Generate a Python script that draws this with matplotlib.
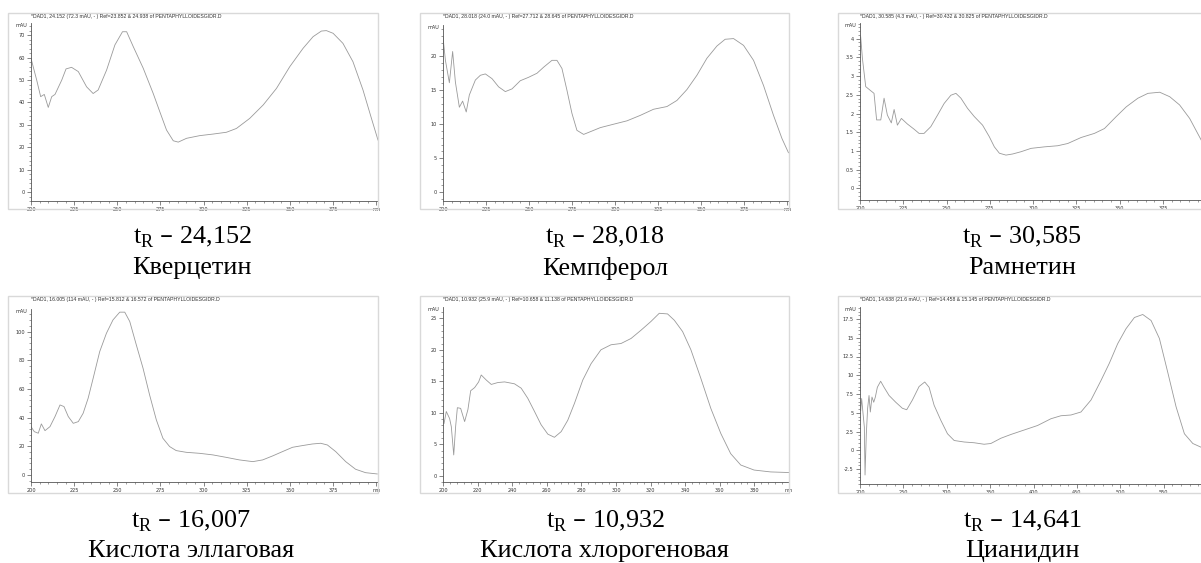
import numpy as np
import matplotlib
matplotlib.use('Agg')
import matplotlib.pyplot as plt
from matplotlib.ticker import MultipleLocator, FuncFormatter
from matplotlib.patches import Rectangle

W, H = 1201, 563

# --- data (nm, mAU) ---
quercetin_nm = [200, 203.3, 205.6, 207.7, 210, 212, 213.9, 217.8, 220.3, 223.5, 227.4, 232.2, 236, 238.9,
                243.8, 248.6, 253, 255.4, 259.2, 265, 270.8, 274.6, 278.5, 282.4, 285.3, 290.1, 297.8,
                305.5, 313.2, 319, 326.7, 334.5, 342.2, 349.9, 357.6, 363.4, 368.2, 371.1, 375, 380.7,
                386.5, 392.3, 397.2, 401]
quercetin_mau = [59.7, 50, 42.6, 43.6, 37.8, 42.6, 43.6, 50, 55, 55.7, 53.8, 47, 44, 45.6,
                 54.5, 65.7, 71.6, 71.6, 65, 55.3, 44, 35.9, 27.7, 22.9, 22.3, 24, 25.2,
                 25.9, 26.7, 28.4, 32.9, 38.9, 46.3, 56, 64.2, 69.4, 71.9, 72.1, 70.9, 66.4,
                 58.2, 45.6, 32.9, 23.2]

kaempferol_nm = [200, 201.4, 203.7, 205.6, 207.2, 209.5, 211.4, 213.5, 215.3, 218.8, 221.7, 224.6, 228.5,
                 232.3, 236.2, 240.1, 244.9, 249.7, 254.6, 258.5, 263.3, 266.2, 269.1, 272, 274.9, 277.8,
                 281.7, 285.6, 291.4, 299.1, 306.9, 314.6, 322.3, 330.1, 335.9, 341.7, 347.5, 353.3,
                 359.1, 363.9, 368.8, 374.6, 380.4, 386.2, 392, 396.9, 400.7]
kaempferol_mau = [22.8, 19.4, 16.1, 20.7, 16.2, 12.5, 13.4, 11.8, 14.3, 16.5, 17.2, 17.4, 16.7,
                  15.5, 14.8, 15.2, 16.4, 16.9, 17.5, 18.4, 19.4, 19.4, 18.2, 15, 11.6, 9.1,
                  8.5, 8.9, 9.5, 10, 10.5, 11.3, 12.2, 12.6, 13.5, 15.1, 17.2, 19.7,
                  21.5, 22.5, 22.6, 21.6, 19.4, 15.7, 11.3, 7.9, 5.8]

rhamnetin_nm = [200.4, 201.4, 203.3, 206.2, 208.1, 209.6, 212, 213.9, 215.8, 218.1, 219.7, 221.6, 223.9,
                227.4, 231.3, 234.1, 237, 240.9, 244.8, 248.6, 252.5, 255.4, 258.3, 262.1, 266, 270.8,
                274.7, 277.6, 280.5, 284.3, 288.2, 293, 298.8, 306.5, 314.2, 320, 327.7, 335.4, 341.2,
                348, 353.8, 360.5, 366.3, 373.1, 378.9, 384.6, 390.4, 397.1, 401]
rhamnetin_mau = [4.05, 3.47, 2.72, 2.61, 2.54, 1.83, 1.83, 2.41, 1.96, 1.75, 2.11, 1.69, 1.87,
                 1.72, 1.58, 1.47, 1.47, 1.65, 1.96, 2.27, 2.49, 2.54, 2.41, 2.14, 1.92, 1.69,
                 1.38, 1.11, 0.94, 0.89, 0.92, 0.98, 1.07, 1.11, 1.14, 1.2, 1.36, 1.47, 1.6,
                 1.92, 2.18, 2.41, 2.54, 2.57, 2.45, 2.23, 1.87, 1.29, 0.95]

ellagic_nm = [200, 201.9, 204.2, 206, 208.1, 211, 213.9, 216.8, 219.1, 221.6, 224.5, 227.4, 230.2, 233.1,
              236, 239.8, 243.7, 247.5, 251.4, 254.3, 257.2, 261, 264.9, 268.7, 272.6, 276.4, 280.3,
              284.1, 289.9, 297.6, 305.3, 313, 320.7, 328.5, 334.2, 340, 345.7, 351.5, 357.3, 363,
              367.8, 371.7, 376.5, 382.3, 388, 393.8, 400.6]
ellagic_mau = [33.7, 30.2, 29.1, 35.6, 30.9, 33.7, 40.7, 48.8, 47.7, 40.7, 36, 37.2, 43, 53.5,
               67.4, 86, 98.8, 108.1, 113.5, 113.5, 107, 90.7, 74.4, 55.8, 38.4, 25.6, 19.8,
               17, 15.8, 15.1, 14, 12.3, 10.5, 9.3, 10.5, 13.3, 16.3, 19.3, 20.5, 21.6,
               22.1, 20.9, 16.3, 9.3, 4, 1.6, 0.7]

chlorogenic_nm = [200.6, 201.9, 203.8, 204.8, 206.2, 207.3, 208.3, 210.2, 212.5, 214.4, 216, 218.3, 220.6,
                  222.1, 225, 227.9, 231.7, 235.6, 241.3, 245.2, 249, 252.9, 256.7, 260.6, 264.4, 268.3,
                  272.1, 276, 280.8, 285.6, 291.3, 297.1, 302.9, 308.7, 314.4, 320.2, 325, 329.8, 333.7,
                  338.5, 343.3, 349, 354.8, 360.6, 366.3, 372.1, 379.8, 389.4, 400.4]
chlorogenic_mau = [8.3, 10.2, 9.1, 7.8, 3.3, 7.8, 10.8, 10.7, 8.6, 10.5, 13.5, 14, 14.9,
                   16, 15.2, 14.5, 14.8, 14.9, 14.6, 13.9, 12.3, 10.2, 8.1, 6.6, 6.1, 7,
                   8.8, 11.5, 15.2, 17.8, 20, 20.8, 21, 21.8, 23.1, 24.5, 25.8, 25.7, 24.7,
                   22.9, 20, 15.5, 10.7, 6.7, 3.5, 1.7, 0.9, 0.6, 0.5]

cyanidin_nm = [200.8, 201.9, 203.5, 205, 205.8, 207.3, 208.8, 210.4, 211.9, 213.8, 215.8, 217.7, 220,
               223.8, 227.7, 233.5, 241.2, 248.8, 253.8, 260.4, 268.1, 274.6, 279.6, 285.4, 293.1,
               300.8, 308.5, 320, 331.5, 343, 350.8, 362.3, 373.8, 389.2, 404.6, 420, 431.5, 443.1,
               454.6, 466.2, 477.7, 487.3, 496.9, 506.5, 516.2, 525.8, 535.4, 545, 554.6, 564.2,
               573.8, 583.5, 593.1, 601]
cyanidin_mau = [5.3, 6.9, 4.9, 3.1, -3.3, 2.2, 5.6, 7.3, 5.1, 7.1, 6.4, 7.1, 8.4,
                9.2, 8.4, 7.3, 6.4, 5.6, 5.4, 6.7, 8.5, 9.1, 8.4, 6, 4,
                2.2, 1.3, 1.1, 1, 0.8, 0.9, 1.6, 2.1, 2.7, 3.3, 4.2, 4.6, 4.7,
                5.1, 6.7, 9.3, 11.6, 14.2, 16.2, 17.7, 18.1, 17.3, 14.9, 10.4, 5.8,
                2.2, 0.9, 0.4, 0.3]

titles = [
    '*DAD1, 24.152 (72.3 mAU, - ) Ref=23.852 & 24.938 of PENTAPHYLLOIDESGIDR.D',
    '*DAD1, 28.018 (24.0 mAU, - ) Ref=27.712 & 28.645 of PENTAPHYLLOIDESGIDR.D',
    '*DAD1, 30.585 (4.3 mAU, - ) Ref=30.432 & 30.825 of PENTAPHYLLOIDESGIDR.D',
    '*DAD1, 16.005 (114 mAU, - ) Ref=15.812 & 16.572 of PENTAPHYLLOIDESGIDR.D',
    '*DAD1, 10.932 (25.9 mAU, - ) Ref=10.658 & 11.138 of PENTAPHYLLOIDESGIDR.D',
    '*DAD1, 14.638 (21.6 mAU, - ) Ref=14.458 & 15.145 of PENTAPHYLLOIDESGIDR.D',
]
ret_times = ['24,152', '28,018', '30,585', '16,007', '10,932', '14,641']
names = ['Кверцетин', 'Кемпферол', 'Рамнетин', 'Кислота эллаговая', 'Кислота хлорогеновая', 'Цианидин']

spectra = [(quercetin_nm, quercetin_mau), (kaempferol_nm, kaempferol_mau), (rhamnetin_nm, rhamnetin_mau),
           (ellagic_nm, ellagic_mau), (chlorogenic_nm, chlorogenic_mau), (cyanidin_nm, cyanidin_mau)]

# layout in pixels: frame (l, r, t, b), axes (l, r, t, b), limits, tick steps, caption position
panels = [
    dict(frame=(8, 378, 13, 209), ax=(31, 378, 23, 201), xlim=(200, 401), ylim=(-4, 75.5),
         xt=(25, 5), yt=(10, 2), cx=192, cy=(237, 268)),
    dict(frame=(420, 789, 13, 209), ax=(443, 789, 25, 201), xlim=(200, 401), ylim=(-1.3, 24.6),
         xt=(25, 5), yt=(5, 1), cx=605, cy=(237, 268)),
    dict(frame=(838, 1208, 13, 209), ax=(860, 1208, 23, 200), xlim=(200, 401), ylim=(-0.31, 4.42),
         xt=(25, 5), yt=(0.5, 0.1), cx=1022, cy=(237, 268)),
    dict(frame=(8, 378, 296, 493), ax=(31, 378, 309, 482), xlim=(200, 401), ylim=(-4.9, 115.7),
         xt=(25, 5), yt=(20, 4), cx=191, cy=(521, 551)),
    dict(frame=(420, 789, 296, 493), ax=(443, 789, 307, 482), xlim=(200, 400), ylim=(-1.0, 26.8),
         xt=(20, 4), yt=(5, 1), cx=605, cy=(521, 551)),
    dict(frame=(838, 1208, 296, 493), ax=(860, 1208, 307, 484), xlim=(200, 601), ylim=(-4.5, 19.1),
         xt=(50, 10), yt=(2.5, 0.5), cx=1022, cy=(521, 551)),
]

fig = plt.figure(figsize=(W / 100, H / 100), dpi=100)
fig.patch.set_facecolor('white')

fmt = FuncFormatter(lambda v, p: f'{v:g}')
axis_col = '#555555'

for i, p in enumerate(panels):
    fl, fr, ft, fb = p['frame']
    fig.patches.append(Rectangle((fl / W, 1 - fb / H), (fr - fl) / W, (fb - ft) / H,
                                 transform=fig.transFigure, fill=False, ec='#d9d9d9', lw=1.0))
    al, ar, at, ab = p['ax']
    ax = fig.add_axes([al / W, 1 - ab / H, (ar - al) / W, (ab - at) / H])
    x, y = spectra[i]
    ax.plot(x, y, color='#9a9a9a', lw=0.6)
    ax.set_xlim(*p['xlim'])
    ax.set_ylim(*p['ylim'])
    for s in ['top', 'right']:
        ax.spines[s].set_visible(False)
    for s in ['left', 'bottom']:
        ax.spines[s].set_color(axis_col)
        ax.spines[s].set_linewidth(0.6)
    xmaj, xmin = p['xt']
    ymaj, ymin = p['yt']
    xticks = np.arange(200, p['xlim'][1] + 0.1, xmaj)
    ax.set_xticks(xticks)
    ax.set_xticklabels([f'{v:g}' for v in xticks[:-1]] + ['nm'])
    ax.xaxis.set_minor_locator(MultipleLocator(xmin))
    ax.yaxis.set_major_locator(MultipleLocator(ymaj))
    ax.yaxis.set_minor_locator(MultipleLocator(ymin))
    ax.yaxis.set_major_formatter(fmt)
    ax.tick_params(which='major', length=3, width=0.5, color=axis_col, labelsize=3.6,
                   labelcolor='#333333', pad=1.5)
    ax.tick_params(which='minor', length=1.5, width=0.4, color=axis_col)
    ax.set_facecolor('none')
    ax.text(-0.012, 0.985, 'mAU', transform=ax.transAxes, ha='right', va='center',
            fontsize=3.6, color='#333333')
    fig.text(al / W, 1 - (ft + 3.5) / H, titles[i], ha='left', va='center',
             fontsize=3.7, color='#333333', family='Liberation Sans')
    fig.text(p['cx'] / W, 1 - p['cy'][0] / H, 't$_\\mathregular{R}$ – ' + ret_times[i],
             ha='center', va='center', fontsize=18.8, family='Liberation Serif')
    fig.text(p['cx'] / W, 1 - p['cy'][1] / H, names[i],
             ha='center', va='center', fontsize=18.8, family='Liberation Serif')

fig.savefig('out.png', dpi=100)
